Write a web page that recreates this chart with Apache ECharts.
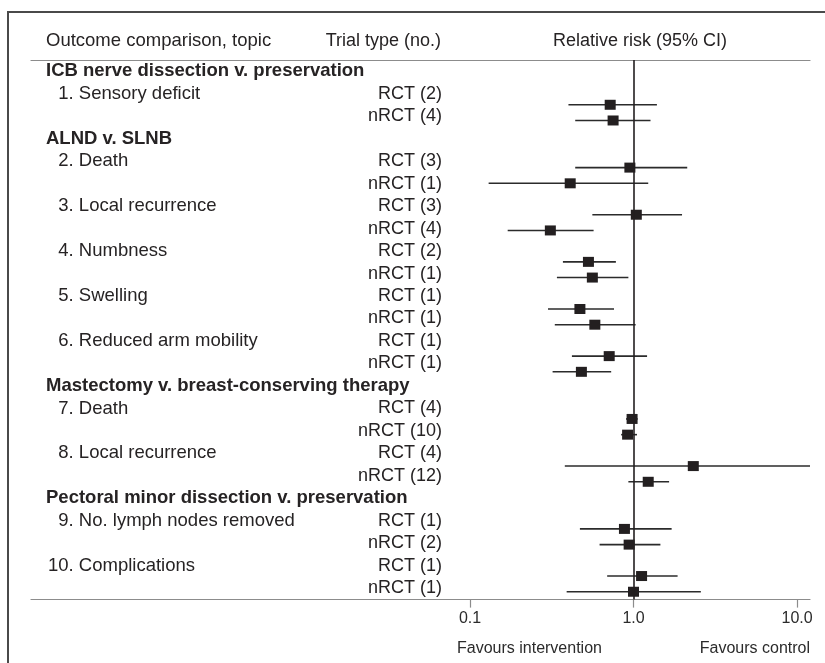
<!DOCTYPE html>
<html><head><meta charset="utf-8">
<script src="https://cdn.jsdelivr.net/npm/echarts@6/dist/echarts.min.js"></script>
<style>html,body{margin:0;padding:0;background:#fff}#c{width:825px;height:663px}</style>
</head><body><div id="c"></div>
<script>
// ---- data ----
const groups = [
  'ICB nerve dissection v. preservation',
  'ALND v. SLNB',
  'Mastectomy v. breast-conserving therapy',
  'Pectoral minor dissection v. preservation'
];
const topicNames = ['Sensory deficit','Death','Local recurrence','Numbness','Swelling','Reduced arm mobility','Death','Local recurrence','No. lymph nodes removed','Complications'];
const topicGroup = [0,1,1,1,1,1,2,2,3,3];
const rctTrials  = [2,3,3,2,1,1,4,4,1,1];
const nrctTrials = [4,1,4,1,1,1,10,12,2,1];
const rctRR   = [0.72, 0.95, 1.04, 0.53, 0.47, 0.71, 0.98, 2.32, 0.88, 1.12];
const rctLow  = [0.40, 0.44, 0.56, 0.37, 0.30, 0.42, 0.90, 0.38, 0.47, 0.69];
const rctHigh = [1.39, 2.13, 1.98, 0.78, 0.76, 1.21, 1.06, 15.0, 1.71, 1.86];
const nrctRR   = [0.75, 0.41, 0.31, 0.56, 0.58, 0.48, 0.92, 1.23, 0.94, 1.00];
const nrctLow  = [0.44, 0.13, 0.17, 0.34, 0.33, 0.32, 0.84, 0.93, 0.62, 0.39];
const nrctHigh = [1.27, 1.23, 0.57, 0.93, 1.03, 0.73, 1.05, 1.65, 1.46, 2.58];
const xTicks = [0.1, 1, 10];
const headers = ['Outcome comparison, topic', 'Trial type (no.)', 'Relative risk (95% CI)'];
const favours = ['Favours intervention', 'Favours control'];

// ---- build table rows and plot slots ----
const rows = [];
const points = [];
let slot = 0, prevGroup = -1;
topicNames.forEach((name, i) => {
  if (topicGroup[i] !== prevGroup) {
    rows.push({kind: 'group', text: groups[topicGroup[i]], trial: ''});
    if (prevGroup !== -1) slot += 1;
    prevGroup = topicGroup[i];
  }
  const n = i + 1;
  rows.push({kind: 'item', text: (n < 10 ? '\u2007' : '') + n + '. ' + name, trial: 'RCT (' + rctTrials[i] + ')'});
  rows.push({kind: 'blank', text: '', trial: 'nRCT (' + nrctTrials[i] + ')'});
  points.push([rctRR[i], slot, rctLow[i], rctHigh[i]]);
  points.push([nrctRR[i], slot + 1, nrctLow[i], nrctHigh[i]]);
  slot += 3;
});
const rowIds = rows.map((r, i) => String(i));

const FONT = '"Liberation Sans", Arial, Helvetica, sans-serif';
const TXT = '#262324';
const RULE = '#8c8c8c';
const FS = 18.5;

const chart = echarts.init(document.getElementById('c'), null, {renderer: 'canvas'});

function catAxis(extra) {
  return Object.assign({
    type: 'category', gridIndex: 1, data: rowIds, inverse: true, position: 'left', offset: 0,
    axisLine: {show: false}, axisTick: {show: false}, splitLine: {show: false}
  }, extra);
}

chart.setOption({
  animation: false,
  backgroundColor: '#fff',
  textStyle: {fontFamily: FONT},
  grid: [
    {left: 470, right: 15, top: 60, bottom: 63.4, outerBoundsMode: 'none', containLabel: false},
    {left: 31, right: 15, top: 60, bottom: 63.5, outerBoundsMode: 'none', containLabel: false}
  ],
  xAxis: [
    {
      type: 'log', logBase: 10, gridIndex: 0, min: 0.1, max: 12, position: 'bottom',
      axisLine: {show: false, onZero: false},
      splitLine: {show: false},
      axisTick: {show: true, length: 8, customValues: xTicks, lineStyle: {color: RULE, width: 1.2}},
      axisLabel: {
        show: true, margin: 11, customValues: xTicks, color: '#2b2b2b', fontSize: 16, fontFamily: FONT,
        formatter: v => (xTicks.some(t => Math.abs(t - v) < 1e-9) ? Number(v).toFixed(1) : '')
      }
    },
    {type: 'value', gridIndex: 1, min: 0, max: 1, position: 'bottom',
     axisLine: {show: true, onZero: false, lineStyle: {color: RULE, width: 1.2}},
     axisTick: {show: false}, axisLabel: {show: false}, splitLine: {show: false}},
    {type: 'value', gridIndex: 1, min: 0, max: 1, position: 'top',
     axisLine: {show: true, onZero: false, lineStyle: {color: RULE, width: 1.2}},
     axisTick: {show: false}, axisLabel: {show: false}, splitLine: {show: false}}
  ],
  yAxis: [
    {type: 'value', gridIndex: 0, inverse: true, min: -2.85, max: 31.5, show: false},
    catAxis({axisLabel: {inside: true, margin: 15, interval: 0, color: TXT, fontSize: FS, fontWeight: 'bold', fontFamily: FONT,
      formatter: (v, i) => rows[i].kind === 'group' ? rows[i].text : ''}}),
    catAxis({axisLabel: {inside: true, margin: 17, interval: 0, color: TXT, fontSize: FS, fontFamily: FONT,
      formatter: (v, i) => rows[i].kind === 'item' ? rows[i].text : ''}}),
    catAxis({axisLabel: {inside: true, margin: 411, align: 'right', interval: 0, color: TXT, fontSize: 18, fontFamily: FONT,
      formatter: (v, i) => rows[i].trial}})
  ],
  graphic: [
    {type: 'polyline', shape: {points: [[8, 663], [8, 12], [825, 12]]}, style: {stroke: '#4a4a4a', lineWidth: 2, fill: null}},
    {type: 'text', x: 46, y: 41, style: {text: headers[0], fontSize: FS, fontFamily: FONT, fill: TXT, align: 'left', verticalAlign: 'middle'}},
    {type: 'text', x: 441, y: 41, style: {text: headers[1], fontSize: 18, fontFamily: FONT, fill: TXT, align: 'right', verticalAlign: 'middle'}},
    {type: 'text', x: 640, y: 41, style: {text: headers[2], fontSize: 18, fontFamily: FONT, fill: TXT, align: 'center', verticalAlign: 'middle'}},
    {type: 'text', x: 457, y: 649, style: {text: favours[0], fontSize: 16, fontFamily: FONT, fill: '#2b2b2b', align: 'left', verticalAlign: 'middle'}},
    {type: 'text', x: 810, y: 649, style: {text: favours[1], fontSize: 16, fontFamily: FONT, fill: '#2b2b2b', align: 'right', verticalAlign: 'middle'}}
  ],
  series: [
    {
      type: 'custom', xAxisIndex: 0, yAxisIndex: 0, silent: true, z: 2,
      data: points.map(p => [p[2], p[3], p[1]]),
      encode: {x: [0, 1], y: 2},
      renderItem: (params, api) => {
        const a = api.coord([api.value(0), api.value(2)]);
        const b = api.coord([api.value(1), api.value(2)]);
        const cs = params.coordSys;
        const x1 = Math.max(a[0], cs.x), x2 = Math.min(b[0], cs.x + cs.width);
        return {type: 'line', shape: {x1: x1, y1: a[1], x2: x2, y2: b[1]}, style: {stroke: '#2b2b2b', lineWidth: 1.6}};
      }
    },
    {
      type: 'scatter', xAxisIndex: 0, yAxisIndex: 0, silent: true, z: 4,
      symbol: 'rect', symbolSize: [11, 10],
      itemStyle: {color: '#231f20', opacity: 1},
      emphasis: {disabled: true},
      data: points.map(p => [p[0], p[1]]),
      markLine: {
        silent: true, symbol: ['none', 'none'], label: {show: false},
        lineStyle: {color: '#231f20', width: 1.6, type: 'solid'},
        emphasis: {disabled: true},
        data: [{xAxis: 1}]
      }
    }
  ]
});
</script>
</body></html>
